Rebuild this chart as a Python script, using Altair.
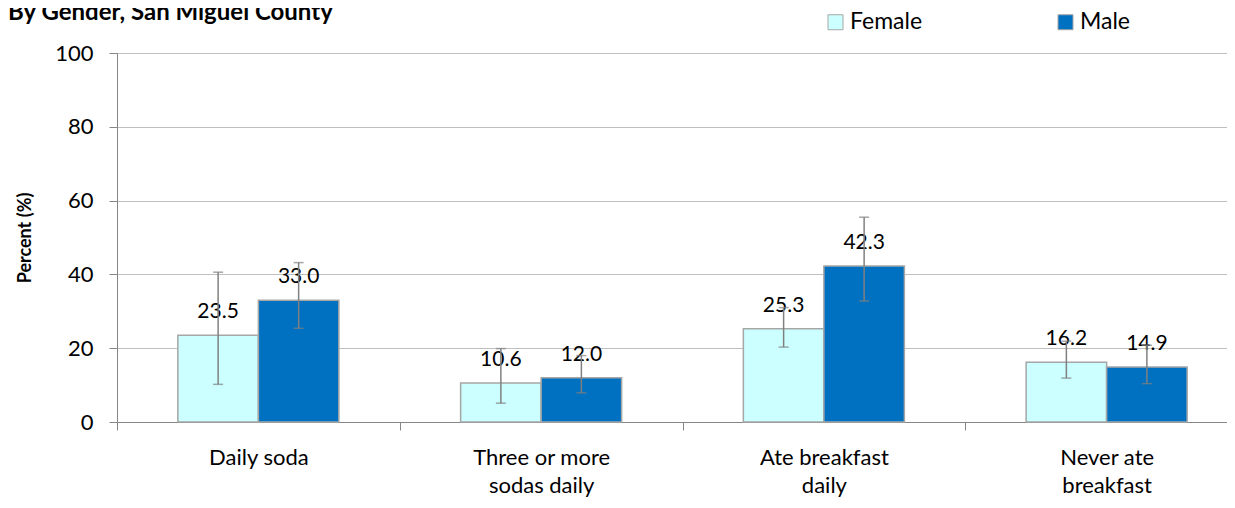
import altair as alt
import pandas as pd

categories = ["Daily soda", "Three or more sodas daily", "Ate breakfast daily", "Never ate breakfast"]
label_lines = [["Daily soda"], ["Three or more", "sodas daily"], ["Ate breakfast", "daily"], ["Never ate", "breakfast"]]
genders = ["Female", "Male"]
female = [23.5, 10.6, 25.3, 16.2]
male = [33.0, 12.0, 42.3, 14.9]
female_lo = [10.2, 5.1, 20.3, 11.9]
female_hi = [40.6, 19.9, 31.0, 21.9]
male_lo = [25.4, 7.9, 32.8, 10.4]
male_hi = [43.2, 18.0, 55.5, 20.8]
colors = ["#CCFFFF", "#0070C0"]

rows = []
for i, c in enumerate(categories):
    rows.append({"cat": c, "gender": "Female", "value": female[i], "lo": female_lo[i], "hi": female_hi[i]})
    rows.append({"cat": c, "gender": "Male", "value": male[i], "lo": male_lo[i], "hi": male_hi[i]})
df = pd.DataFrame(rows)

label_expr = " : ".join(
    f"datum.value == '{c}' ? {lines!r}" for c, lines in zip(categories, label_lines)
) + " : datum.value"

FONT = "Lato"
AXIS_GRAY = "#868686"

x = alt.X("cat:N", sort=categories, title=None,
          scale=alt.Scale(paddingInner=0, paddingOuter=0, range=[0, 1131]),
          axis=alt.Axis(labelAngle=0, tickBand="extent", tickSize=8, labelPadding=17,
                        labelFontSize=22, labelFont=FONT, labelColor="black",
                        labelLineHeight=28, labelBaseline="top", labelExpr=label_expr,
                        domainColor=AXIS_GRAY, tickColor=AXIS_GRAY, grid=False))
xo = alt.XOffset("gender:N", sort=genders, scale=alt.Scale(paddingInner=0, paddingOuter=0.756))
y = alt.Y("value:Q", scale=alt.Scale(domain=[0, 100], nice=False),
          axis=alt.Axis(values=[0, 20, 40, 60, 80, 100], tickSize=8, labelPadding=16,
                        labelFontSize=22, labelFont=FONT, labelColor="black",
                        domainColor=AXIS_GRAY, tickColor=AXIS_GRAY, gridColor="#BFBFBF",
                        title="Percent (%)", titleFont=FONT, titleFontSize=18,
                        titleFontWeight="bold", titleColor="black",
                        titleX=-83, titleBaseline="bottom"))

base = alt.Chart(df)

bars = base.mark_bar(stroke="#A6A6A6", strokeWidth=1.5).encode(
    x=x, xOffset=xo, y=y,
    color=alt.Color("gender:N", sort=genders,
                    scale=alt.Scale(domain=genders, range=colors),
                    legend=alt.Legend(title=None, orient="none", direction="horizontal",
                                      legendX=707, legendY=-42.5, symbolType="square",
                                      symbolSize=225, symbolStrokeColor="#A6A6A6",
                                      symbolStrokeWidth=1, labelFont=FONT, labelFontSize=23,
                                      labelColor="black", labelOffset=3, columnPadding=131)),
)

labels = base.mark_text(font=FONT, fontSize=21, color="black", baseline="alphabetic", dy=-17).encode(
    x=x, xOffset=xo, y=y, text=alt.Text("value:Q", format=".1f"))

rules = base.mark_rule(color="#808080", strokeWidth=1.5).encode(
    x=x, xOffset=xo, y="lo:Q", y2="hi:Q")
caps_lo = base.mark_tick(orient="horizontal", size=10, thickness=1.5, color="#808080").encode(
    x=x, xOffset=xo, y="lo:Q")
caps_hi = base.mark_tick(orient="horizontal", size=10, thickness=1.5, color="#808080").encode(
    x=x, xOffset=xo, y="hi:Q")

chart = alt.layer(bars, labels, rules, caps_lo, caps_hi).properties(
    width=1110, height=369,
    title=alt.TitleParams("By Gender, San Miguel County", anchor="start", frame="group",
                          dx=-109, dy=18, font=FONT, fontSize=24, fontWeight="bold", color="black"),
    autosize=alt.AutoSizeParams(type="none"),
    padding={"left": 109, "top": 45, "right": 0, "bottom": 78},
).configure_view(stroke=None).configure(font=FONT)

chart.save("out.html", embed_options={"renderer": "svg", "actions": False})
